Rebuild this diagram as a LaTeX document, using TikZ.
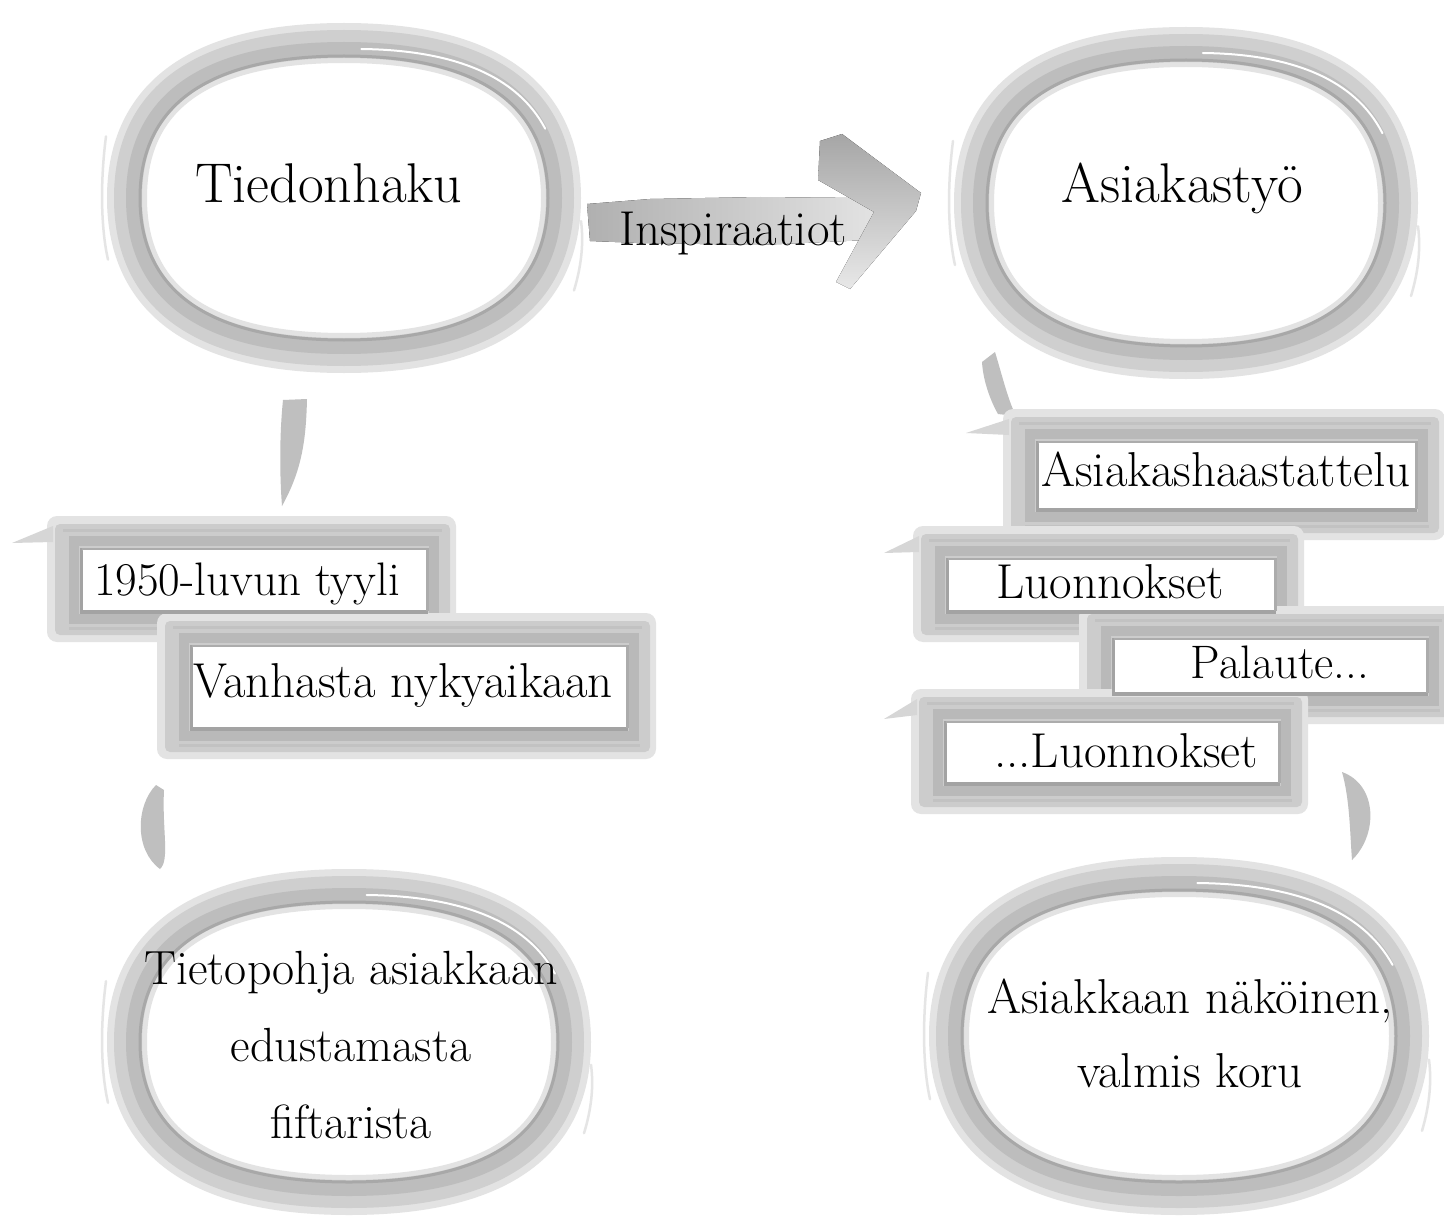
\documentclass[tikz,border=0pt]{standalone}
\usetikzlibrary{calc}
% squircle-like closed path, args: rx, ry, k
\newcommand\mysqpath[3]{(0,-#2) .. controls ({#3*#1},-#2) and (#1,{-#3*#2}) .. (#1,0) .. controls (#1,{#3*#2}) and ({#3*#1},#2) .. (0,#2) .. controls ({-#3*#1},#2) and (-#1,{#3*#2}) .. (-#1,0) .. controls (-#1,{-#3*#2}) and ({-#3*#1},-#2) .. (0,-#2) -- cycle}
\newcommand\mybrushring[4]{%
  \begin{scope}[shift={(#1,#2)}]
    \pgfmathsetmacro\rxa{#3+1}\pgfmathsetmacro\rya{#4+1}%
    \pgfmathsetmacro\rxb{#3}\pgfmathsetmacro\ryb{#4}%
    \pgfmathsetmacro\rxc{#3-5}\pgfmathsetmacro\ryc{#4-5}%
    \pgfmathsetmacro\rxd{#3-12}\pgfmathsetmacro\ryd{#4-12}%
    \draw[ringhaze] \mysqpath{\rxa}{\rya}{0.66};
    \draw[ringmid] \mysqpath{\rxb}{\ryb}{0.66};
    \draw[ringcore] \mysqpath{\rxc}{\ryc}{0.66};
    \draw[ringedge] \mysqpath{\rxd}{\ryd}{0.66};
    % spiral start: thin gap at the upper right
    \draw[white, line width=2pt, line cap=round] ({0.08*#3},{-#4+5}) .. controls ({0.5*#3},{-#4+6}) and ({0.8*#3},{-0.8*#4}) .. ({0.95*#3-4},{-0.45*#4});
    % faint outer streaks
    \draw[ringstreak] ({-#3-22},{-0.4*#4}) .. controls ({-#3-28},{-0.1*#4}) and ({-#3-27},{0.2*#4}) .. ({-#3-20},{0.4*#4});
    \draw[ringstreak] ({#3+21},{0.15*#4}) .. controls ({#3+24},{0.3*#4}) and ({#3+21},{0.45*#4}) .. ({#3+14},{0.6*#4});
  \end{scope}}
\newcommand\myboxframe[4]{%
  \fill[gray!22, rounded corners=10pt] (#1-36,#2-34) rectangle (#3+30,#4+32);
  \fill[gray!40, rounded corners=5pt] (#1-28,#2-26) rectangle (#3+24,#4+25);
  \draw[gray!55, line width=10pt] (#1-9,#2-9) rectangle (#3+8,#4+9);
  \draw[gray!48, line width=3pt] (#1-20,#2-20) -- (#3+16,#2-20);
  \draw[gray!48, line width=3pt] (#1-14,#4+18) -- (#3+14,#4+18);}
\newcommand\myboxwhite[4]{%
  \draw[gray!72, line width=5pt] (#1-1,#2-2) -- (#1-1,#4+1) -- (#3+2,#4+1);
  \draw[gray!65, line width=3pt] (#1-1,#2-1) -- (#3+1,#2-1) -- (#3+1,#4+1);
  \fill[white] (#1,#2) rectangle (#3,#4);}
\newcommand\mystreak[4]{% x1 y1 (box inner) xleft yleft
  \fill[gray!32] (#1-30,#2-24) -- (#3,#4) -- (#1-30,#2-8) -- cycle;}
\tikzset{
  ringhaze/.style={draw=gray!22, line width=40pt},
  ringmid/.style={draw=gray!38, line width=28pt},
  ringcore/.style={draw=gray!52, line width=14pt},
  ringedge/.style={draw=gray!68, line width=3pt},
  ringstreak/.style={draw=gray!20, line width=2.5pt, line cap=round},
  brushconn/.style={fill=gray!50},
  bigtext/.style={font=\fontsize{56}{64}\selectfont, inner sep=0pt, anchor=base},
  boxtext/.style={font=\fontsize{49}{56}\selectfont, inner sep=0pt, anchor=base},
  ovaltext/.style={inner sep=0pt, align=center},
}
\begin{document}
\begin{tikzpicture}[x=1pt, y=-1pt]
\useasboundingbox (0,0) rectangle (1444,1220);
\fill[white] (0,0) rectangle (1444,1220);

% ---- rings
\mybrushring{344}{198}{216}{154}
\mybrushring{1186}{203}{211}{155}
\mybrushring{349}{1042}{221}{152}
\mybrushring{1179}{1036}{229}{158}

% ---- brush connectors
\coordinate (c1a) at (283,400); \coordinate (c1b) at (282,506);
\fill[brushconn] (c1a) -- (307,399) .. controls (306,440) and (302,470) .. (c1b) .. controls (280,480) and (279,440) .. (c1a) -- cycle;
\coordinate (c2a) at (156,785); \coordinate (c2b) at (160,869);
\fill[brushconn] (c2a) .. controls (136,805) and (134,850) .. (c2b) .. controls (170,860) and (162,830) .. (164,790) -- cycle;
\coordinate (c3a) at (995,352); \coordinate (c3b) at (1016,416);
\fill[brushconn] (c3a) .. controls (1002,375) and (1008,400) .. (c3b) -- (998,414) .. controls (990,400) and (983,380) .. (982,362) -- cycle;
\coordinate (c4a) at (1342,772); \coordinate (c4b) at (1352,860);
\fill[brushconn] (c4a) .. controls (1378,785) and (1378,835) .. (c4b) .. controls (1350,835) and (1350,800) .. (c4a) -- cycle;

% ---- arrow
\fill[left color=gray!62, right color=gray!22] (587,204) -- (650,199) -- (760,197) -- (860,198) -- (878,210) -- (868,240) -- (760,245) -- (640,243) -- (590,241) -- cycle;
\fill[top color=gray!70, bottom color=gray!18] (820,141) -- (842,134) -- (921,193) -- (916,211) -- (850,289) -- (836,282) -- (874,212) -- (818,180) -- cycle;

% ---- box frames
\myboxframe{83}{550}{426}{610}
\myboxframe{193}{647}{626}{727}
\myboxframe{1039}{443}{1415}{508}
\myboxframe{949}{560}{1274}{610}
\myboxframe{1115}{640}{1426}{692}
\myboxframe{947}{723}{1278}{782}
\mystreak{83}{550}{12}{543}
\mystreak{1039}{443}{966}{433}
\mystreak{949}{560}{884}{553}
\mystreak{947}{723}{884}{719}
% ---- box whites
\myboxwhite{83}{550}{426}{610}
\myboxwhite{193}{647}{626}{727}
\myboxwhite{1039}{443}{1415}{508}
\myboxwhite{949}{560}{1274}{610}
\myboxwhite{1115}{640}{1426}{692}
\myboxwhite{947}{723}{1278}{782}

% ---- texts
\node[bigtext] (tied) at (329,203) {Tiedonhaku};
\node[bigtext] (asia) at (1182,203) {Asiakastyö};
\node[boxtext] (insp) at (733,245) {Inspiraatiot};
\node[boxtext, font=\fontsize{47}{56}\selectfont] (b1) at (247,595) {1950-luvun tyyli};
\node[boxtext] (b2) at (403,697) {Vanhasta nykyaikaan};
\node[boxtext] (b3) at (1226,486) {Asiakashaastattelu};
\node[boxtext] (b4) at (1110,598) {Luonnokset};
\node[boxtext, font=\fontsize{47}{56}\selectfont] (b5) at (1280,678) {Palaute...};
\node[boxtext] (b6) at (1126,767) {...Luonnokset};
\node[ovaltext, font=\fontsize{48}{77}\selectfont] (tieto) at (351,1045) {Tietopohja asiakkaan\\edustamasta\\fiftarista};
\node[ovaltext, font=\fontsize{49}{74}\selectfont] (koru) at (1190,1033) {Asiakkaan näköinen,\\valmis koru};
\end{tikzpicture}
\end{document}
